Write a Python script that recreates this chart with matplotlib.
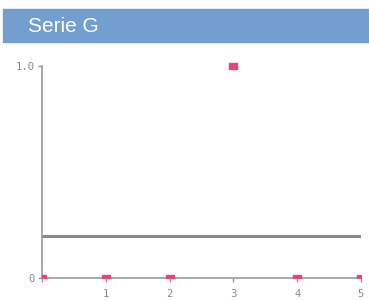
import matplotlib.pyplot as plt
from matplotlib.patches import Rectangle
from matplotlib.path import Path

# data
x_vals = [0, 1, 2, 3, 4, 5]
y_vals = [0, 0, 0, 1.0, 0, 0]
ref_level = 0.2
x_ticks = [0, 1, 2, 3, 4, 5]
x_labels = ["", "1", "2", "3", "4", "5"]
y_ticks = [0, 1.0]
y_labels = ["0", "1.0"]
title = "Serie G"

fig = plt.figure(figsize=(3.69, 3.00), dpi=100)

# header band
fig.patches.append(Rectangle((3 / 369, 1 - 42 / 300), 366 / 369, 33 / 300,
                             transform=fig.transFigure, color="#729fcf", zorder=0))
fig.text(28 / 369, 1 - 26 / 300, title, color="white", fontsize=15,
         family="Liberation Sans", va="center", ha="left")

ax = fig.add_axes([42 / 369, 22 / 300, 319 / 369, 212 / 300])
ax.set_xlim(0, 5)
ax.set_ylim(0, 1.0)

ax.axhline(ref_level, color="#8a8a8a", lw=2.2, zorder=2)

rect = Path([(-1, -0.6), (1, -0.6), (1, 0.6), (-1, 0.6), (-1, -0.6)],
            [Path.MOVETO, Path.LINETO, Path.LINETO, Path.LINETO, Path.CLOSEPOLY])
pts, = ax.plot(x_vals, y_vals, ls="none", marker=rect, ms=6.2,
               color="#e3457c", mec="#e3457c", zorder=3)
clip = Rectangle((0, 0), 5, 2, transform=ax.transData)
pts.set_clip_path(clip)

for s in ["top", "right"]:
    ax.spines[s].set_visible(False)
for s in ["left", "bottom"]:
    ax.spines[s].set_color("#999999")
    ax.spines[s].set_linewidth(1.2)

ax.set_xticks(x_ticks)
ax.set_xticklabels(x_labels, family="DejaVu Sans Mono")
ax.set_yticks(y_ticks)
ax.set_yticklabels(y_labels, family="DejaVu Sans Mono")
ax.tick_params(colors="#999999", labelcolor="#888888", labelsize=7.6,
               length=3, width=1)
ax.tick_params(axis="x", pad=5)
ax.tick_params(axis="y", pad=2)

fig.savefig("out.png", dpi=100)
